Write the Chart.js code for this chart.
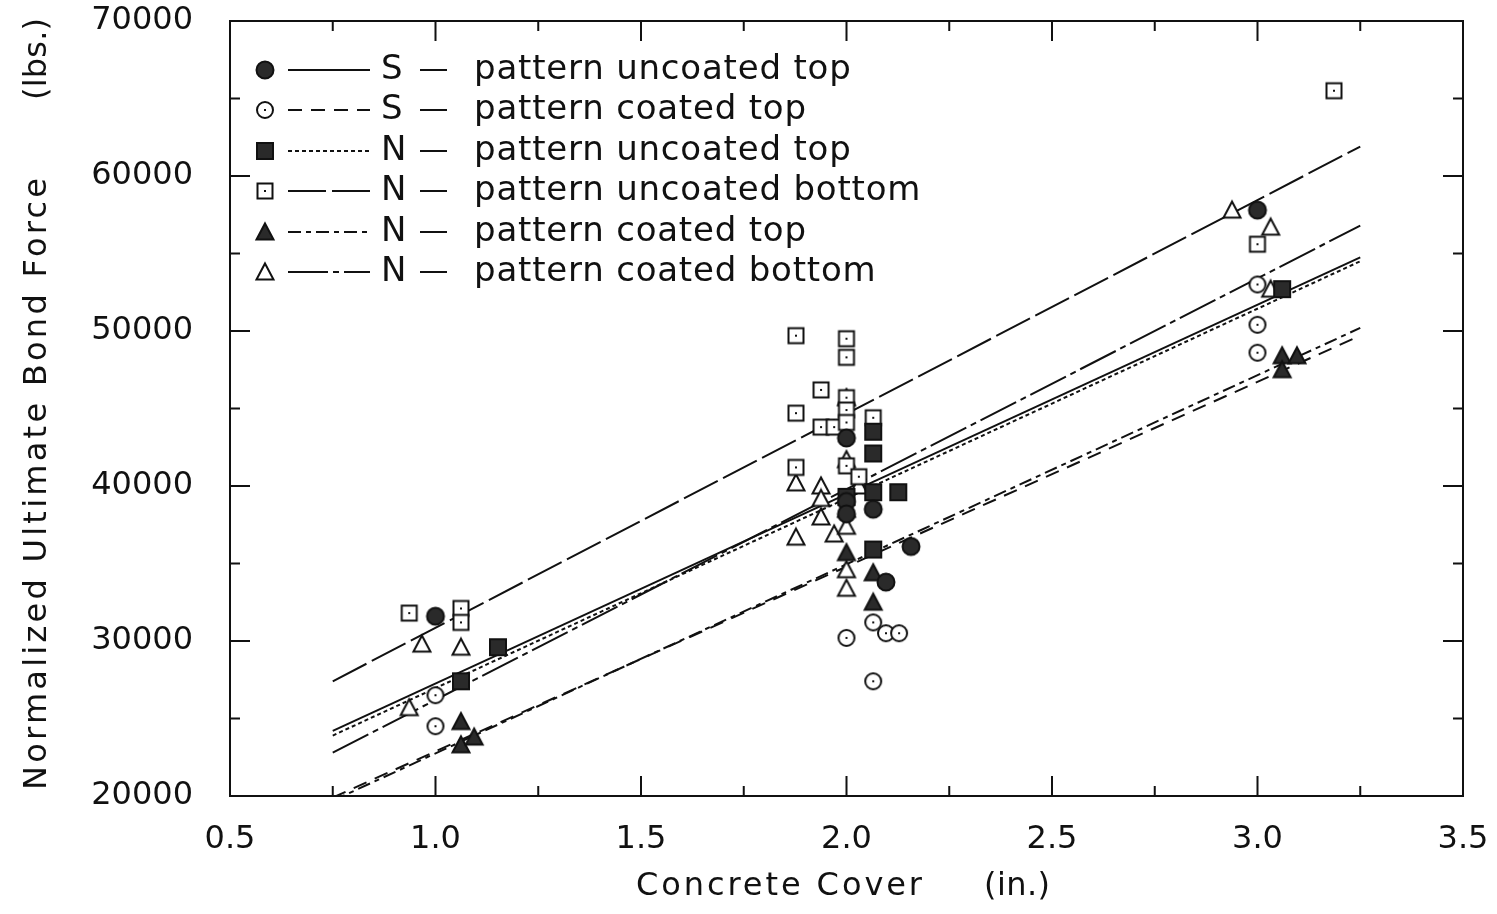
<!DOCTYPE html>
<html>
<head>
<meta charset="utf-8">
<script src="https://cdn.jsdelivr.net/npm/chart.js@4"></script>
<style>
  html, body { margin: 0; padding: 0; background: #fff; }
  #wrap { width: 1497px; height: 914px; }
</style>
</head>
<body>
<div id="wrap"><canvas id="bondChart" width="1497" height="914"></canvas></div>
<script>
const sUncTopX = [1.0, 2.0, 2.0, 2.0, 2.065, 2.096, 2.157, 3.0];
const sUncTopY = [31600, 43100, 39000, 38200, 38500, 33800, 36100, 57800];

const sCoatTopX = [1.0, 1.0, 2.0, 2.065, 2.096, 2.128, 2.065, 3.0, 3.0, 3.0];
const sCoatTopY = [26500, 24500, 30200, 31200, 30500, 30500, 27400, 53000, 50400, 48600];

const nUncTopX = [1.062, 1.152, 2.0, 2.065, 2.065, 2.065, 2.126, 2.065, 3.06];
const nUncTopY = [27400, 29600, 39300, 43500, 42100, 39600, 39600, 35900, 52700];

const nUncBotX = [0.936, 1.062, 1.062, 1.877, 1.877, 1.877, 1.938, 1.938, 1.97, 2.0, 2.0, 2.0, 2.0, 2.0, 2.0, 2.03, 2.065, 3.0, 3.186];
const nUncBotY = [31800, 32100, 31200, 49700, 44700, 41200, 46200, 43800, 43800, 49500, 48300, 45700, 44900, 44100, 41300, 40600, 44400, 55600, 65500];

const nCoatTopX = [1.062, 1.062, 1.094, 2.0, 2.065, 2.065, 3.06, 3.096, 3.06];
const nCoatTopY = [24800, 23300, 23800, 35700, 34400, 32500, 48400, 48400, 47500];

const nCoatBotX = [0.936, 0.967, 1.062, 1.877, 1.877, 1.938, 1.938, 1.938, 1.97, 2.0, 2.0, 2.0, 2.0, 2.0, 2.0, 2.03, 2.938, 3.032, 3.032];
const nCoatBotY = [25700, 29800, 29600, 40200, 36700, 40000, 39200, 38000, 36900, 45700, 41700, 38500, 37400, 34600, 33400, 40000, 57800, 56700, 52700];

// regression lines (end points at cover 0.75 and 3.25)
const fitX = [0.75, 3.25];
const sUncTopFit = [24200, 54750];
const sCoatTopFit = [19900, 49700];
const nUncTopFit = [23900, 54500];
const nUncBotFit = [27400, 61900];
const nCoatTopFit = [19700, 50200];
const nCoatBotFit = [22800, 56800];

const xTicks = [0.5, 1.0, 1.5, 2.0, 2.5, 3.0, 3.5];
const yTicks = [20000, 30000, 40000, 50000, 60000, 70000];

const seriesLabels = [
  ["S", "pattern uncoated top"],
  ["S", "pattern coated top"],
  ["N", "pattern uncoated top"],
  ["N", "pattern uncoated bottom"],
  ["N", "pattern coated top"],
  ["N", "pattern coated bottom"]
];

const INK = "#111";
const FONT = "'DejaVu Sans', sans-serif";

function makeMarker(shape, filled) {
  const c = document.createElement("canvas");
  c.width = 22; c.height = 22;
  const g = c.getContext("2d");
  g.strokeStyle = INK; g.fillStyle = INK; g.lineWidth = 2;
  g.beginPath();
  if (shape === "circle") {
    g.arc(11, 11, filled ? 8.5 : 8, 0, Math.PI * 2);
  } else if (shape === "square") {
    if (filled) g.rect(3, 3, 16, 16); else g.rect(3.5, 3.5, 15, 15);
  } else {
    g.moveTo(11, 2.5); g.lineTo(19.5, 18.5); g.lineTo(2.5, 18.5); g.closePath();
  }
  if (filled) { g.fillStyle = "#2a2a2a"; g.fill(); g.stroke(); }
  else {
    g.fillStyle = "#fff"; g.fill(); g.stroke();
    if (shape !== "triangle") { g.fillStyle = INK; g.fillRect(10, 10, 2, 2); }
  }
  return c;
}

const markers = [
  makeMarker("circle", true),
  makeMarker("circle", false),
  makeMarker("square", true),
  makeMarker("square", false),
  makeMarker("triangle", true),
  makeMarker("triangle", false)
];

const dashes = [[], [14, 9], [4, 3], [38, 6], [13, 5, 5, 5], [40, 5, 6, 5]];

const pointSets = [
  [sUncTopX, sUncTopY], [sCoatTopX, sCoatTopY], [nUncTopX, nUncTopY],
  [nUncBotX, nUncBotY], [nCoatTopX, nCoatTopY], [nCoatBotX, nCoatBotY]
];
const fitSets = [sUncTopFit, sCoatTopFit, nUncTopFit, nUncBotFit, nCoatTopFit, nCoatBotFit];

const datasets = [];
fitSets.forEach((ys, i) => {
  datasets.push({
    type: "line",
    data: fitX.map((x, k) => ({ x: x, y: ys[k] })),
    borderColor: INK,
    borderWidth: 2,
    borderDash: dashes[i],
    pointRadius: 0,
    fill: false,
    order: 2
  });
});
pointSets.forEach((p, i) => {
  datasets.push({
    type: "scatter",
    data: p[0].map((x, k) => ({ x: x, y: p[1][k] })),
    pointStyle: markers[i],
    pointRadius: 10,
    order: 1
  });
});

function spacedText(ctx, str, x, y, width, align) {
  ctx.letterSpacing = "0px";
  const w = ctx.measureText(str).width;
  const sp = (width - w) / Math.max(1, str.length - 1);
  ctx.letterSpacing = sp + "px";
  ctx.textAlign = "left";
  const start = align === "center" ? x - width / 2 : x;
  ctx.fillText(str, start, y);
  ctx.letterSpacing = "0px";
}

function noPad(scale) {
  scale.paddingLeft = 0; scale.paddingRight = 0;
  scale.paddingTop = 0; scale.paddingBottom = 0;
}

const framePlugin = {
  id: "frame",
  afterDatasetsDraw(chart) {
    const ctx = chart.ctx;
    const a = chart.chartArea;
    const xs = chart.scales.x, ys = chart.scales.y;
    ctx.save();
    ctx.strokeStyle = INK;
    ctx.lineWidth = 2;
    ctx.strokeRect(a.left, a.top, a.right - a.left, a.bottom - a.top);
    for (let v = 0.5; v <= 3.5001; v += 0.25) {
      const px = xs.getPixelForValue(v);
      const len = Math.abs(v * 2 - Math.round(v * 2)) < 1e-6 ? 20 : 10;
      ctx.beginPath();
      ctx.moveTo(px, a.bottom); ctx.lineTo(px, a.bottom - len);
      ctx.moveTo(px, a.top); ctx.lineTo(px, a.top + len);
      ctx.stroke();
    }
    for (let v = 20000; v <= 70000; v += 5000) {
      const py = ys.getPixelForValue(v);
      const len = v % 10000 === 0 ? 20 : 10;
      ctx.beginPath();
      ctx.moveTo(a.left, py); ctx.lineTo(a.left + len, py);
      ctx.moveTo(a.right, py); ctx.lineTo(a.right - len, py);
      ctx.stroke();
    }

    // axis titles
    ctx.fillStyle = INK;
    ctx.textBaseline = "middle";
    ctx.font = "32px " + FONT;
    spacedText(ctx, "Concrete Cover", 779, 887, 286, "center");
    spacedText(ctx, "(in.)", 1017, 887, 66, "center");
    ctx.save();
    ctx.translate(38, 0);
    ctx.rotate(-Math.PI / 2);
    spacedText(ctx, "Normalized Ultimate Bond Force", -484, 0, 612, "center");
    spacedText(ctx, "(lbs.)", -59, 0, 82, "center");
    ctx.restore();

    // legend
    const rows = [70, 110, 151, 191, 232, 272];
    ctx.font = "34px " + FONT;
    seriesLabels.forEach((lab, i) => {
      const y = rows[i];
      ctx.drawImage(markers[i], 265 - 11, y - 11);
      ctx.beginPath();
      ctx.setLineDash(dashes[i]);
      ctx.lineWidth = 2;
      ctx.moveTo(288, y); ctx.lineTo(370, y);
      ctx.stroke();
      ctx.setLineDash([]);
      ctx.textAlign = "left";
      ctx.fillText(lab[0], 381, y);
      ctx.fillRect(420, y - 1, 27, 2);
      spacedText(ctx, lab[1], 474, y, ctx.measureText(lab[1]).width + 0.8 * (lab[1].length - 1), "left");
    });
    ctx.restore();
  }
};

new Chart(document.getElementById("bondChart"), {
  type: "scatter",
  data: { datasets: datasets },
  options: {
    responsive: false,
    animation: false,
    events: [],
    layout: { padding: { left: 0, top: 21, right: 34, bottom: 0 } },
    plugins: { legend: { display: false }, tooltip: { enabled: false } },
    scales: {
      x: {
        type: "linear",
        min: 0.5, max: 3.5,
        afterFit(scale) { scale.height = 118; noPad(scale); },
        afterBuildTicks(scale) { scale.ticks = xTicks.map(v => ({ value: v })); },
        grid: { display: false, drawTicks: false },
        border: { display: false },
        ticks: {
          color: INK,
          font: { family: FONT, size: 32 },
          padding: 24,
          maxRotation: 0,
          callback: v => Number(v).toFixed(1)
        }
      },
      y: {
        type: "linear",
        min: 20000, max: 70000,
        afterFit(scale) { scale.width = 230; noPad(scale); },
        afterBuildTicks(scale) { scale.ticks = yTicks.map(v => ({ value: v })); },
        grid: { display: false, drawTicks: false },
        border: { display: false },
        ticks: {
          color: INK,
          font: { family: FONT, size: 32 },
          padding: 37,
          callback: v => String(v)
        }
      }
    }
  },
  plugins: [framePlugin]
});
</script>
</body>
</html>
